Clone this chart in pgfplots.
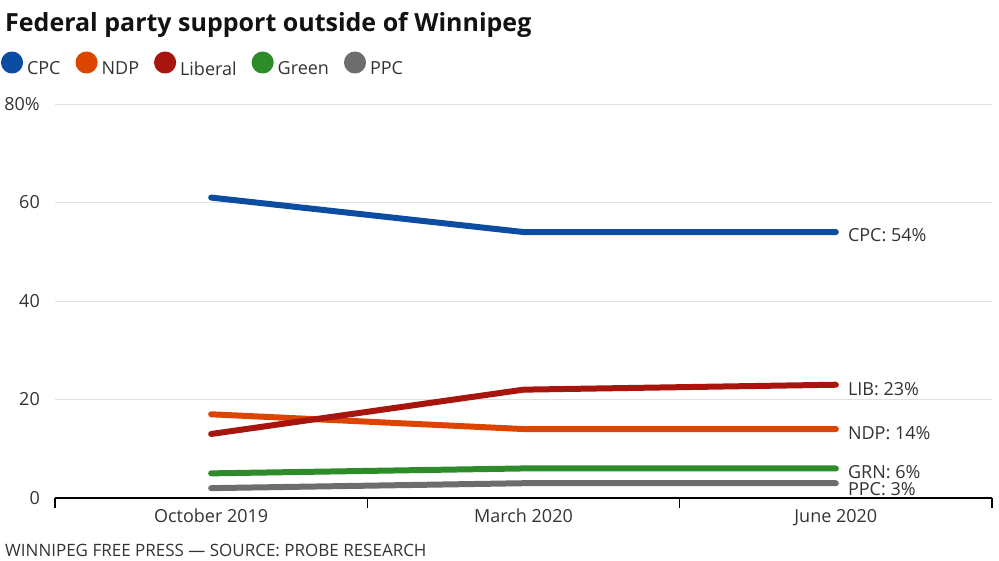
\documentclass[border=0pt]{standalone}
\usepackage{pgfplots}
\pgfplotsset{compat=1.18}
\usepackage{fontspec}
\setmainfont{Open Sans}
\definecolor{cpc}{HTML}{0C4DA2}
\definecolor{ndp}{HTML}{DD4400}
\definecolor{lib}{HTML}{A8150F}
\definecolor{grn}{HTML}{2E8B2A}
\definecolor{ppc}{HTML}{6D6D6D}
\definecolor{txt}{HTML}{333333}
\begin{document}
\begin{tikzpicture}
\path[use as bounding box] (-55bp,-63bp) rectangle (944bp,498bp);
\begin{axis}[
  at={(0,0)}, anchor=south west,
  scale only axis, width=937bp, height=394bp,
  xmin=-0.5, xmax=2.5, ymin=0, ymax=80,
  axis x line*=bottom, axis y line*=left,
  x axis line style={black, line width=1.6bp},
  y axis line style={draw=none},
  xtick={0,1,2},
  xticklabels={October 2019, March 2020, June 2020},
  minor xtick={-0.5,0.5,1.5,2.5},
  major tick length=0pt, minor tick length=10bp,
  tick align=outside,
  minor tick style={black, line width=1.2bp},
  ytick={0,20,40,60,80},
  yticklabels={0,20,40,60,80\%},
  ymajorgrids,
  grid style={color=black!12, line width=1bp},
  tick label style={font=\fontsize{18bp}{20bp}\selectfont, text=txt},
  xticklabel style={anchor=base, yshift=-24bp},
  yticklabel style={anchor=east, inner sep=0pt, xshift=-15bp},
  /pgf/number format/assume math mode=true,
  clip=false,
  legend columns=-1,
  legend style={draw=none, fill=none, inner sep=0pt, outer sep=0pt,
    at={(-0.0576,1.1015)}, anchor=west,
    font=\fontsize{18bp}{20bp}\selectfont, text=txt,
    nodes={inner sep=0pt},
    /tikz/every odd column/.append style={column sep=4bp},
    /tikz/every even column/.append style={column sep=15bp}},
  legend image code/.code={\fill (8bp,6.4bp) circle (8bp);},
  every axis plot/.append style={line width=6bp, line cap=round, line join=round},
]
\addplot[cpc] coordinates {(0,61) (1,54) (2,54)};
\addlegendentry{CPC}
\addplot[ndp] coordinates {(0,17) (1,14) (2,14)};
\addlegendentry{NDP}
\addplot[lib] coordinates {(0,13) (1,22) (2,23)};
\addlegendentry{Liberal}
\addplot[grn] coordinates {(0,5) (1,6) (2,6)};
\addlegendentry{Green}
\addplot[ppc] coordinates {(0,2) (1,3) (2,3)};
\addlegendentry{PPC}
\begin{scope}[every node/.style={anchor=west, inner sep=0pt, text=txt, font=\fontsize{18bp}{20bp}\selectfont}]
\node[xshift=12bp, yshift=-3bp] at (axis cs:2,54) {CPC: 54\%};
\node[xshift=12bp, yshift=-4bp] at (axis cs:2,23) {LIB: 23\%};
\node[xshift=12bp, yshift=-4bp] at (axis cs:2,14) {NDP: 14\%};
\node[xshift=12bp, yshift=-4bp] at (axis cs:2,6) {GRN: 6\%};
\node[xshift=12bp, yshift=-6bp] at (axis cs:2,3) {PPC: 3\%};
\end{scope}
\end{axis}
\node[anchor=base west, inner sep=0pt, text=black!93] at (-50bp,466bp) {\fontsize{25bp}{28bp}\selectfont\bfseries Federal party support outside of Winnipeg};
\node[anchor=base west, inner sep=0pt, text=txt] at (-50bp,-58bp) {\fontsize{17bp}{19bp}\selectfont WINNIPEG FREE PRESS — SOURCE: PROBE RESEARCH};
\end{tikzpicture}
\end{document}
